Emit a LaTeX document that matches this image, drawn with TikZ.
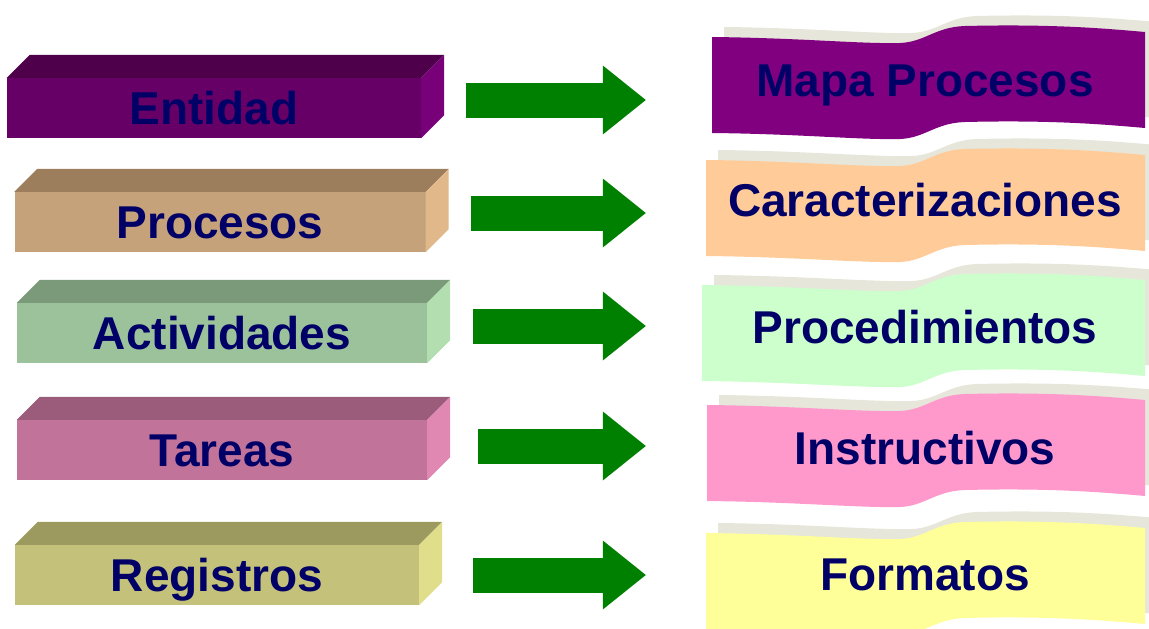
\documentclass[tikz,border=0pt]{standalone}
\usepackage{fontspec}
\setmainfont{Liberation Sans}
\usetikzlibrary{arrows.meta,positioning}

\definecolor{tinta}{RGB}{0,0,102}
\definecolor{verde}{RGB}{0,128,0}
\definecolor{sombra}{RGB}{230,230,218}
% left blocks: front, top, side
\definecolor{entF}{RGB}{102,0,102}   \definecolor{entT}{RGB}{78,0,74}    \definecolor{entS}{RGB}{120,0,120}
\definecolor{proF}{RGB}{198,162,122} \definecolor{proT}{RGB}{156,125,92} \definecolor{proS}{RGB}{224,184,138}
\definecolor{actF}{RGB}{156,194,156} \definecolor{actT}{RGB}{122,154,122} \definecolor{actS}{RGB}{178,222,176}
\definecolor{tarF}{RGB}{194,115,153} \definecolor{tarT}{RGB}{154,92,122} \definecolor{tarS}{RGB}{224,136,178}
\definecolor{regF}{RGB}{196,194,122} \definecolor{regT}{RGB}{156,154,94} \definecolor{regS}{RGB}{224,222,138}
% ribbons
\definecolor{mapC}{RGB}{128,0,128}
\definecolor{carC}{RGB}{255,204,153}
\definecolor{procC}{RGB}{204,255,204}
\definecolor{insC}{RGB}{255,153,204}
\definecolor{forC}{RGB}{255,255,153}

\tikzset{
    bloque/.style={
                minimum height=60pt,
                inner sep=0pt,
                text height=33pt,
                text depth=0pt,
                font=\fontsize{46}{50}\selectfont\bfseries,
                text=tinta
            },
    cinta/.style={
                minimum width=438pt,
                inner sep=0pt,
                text height=33pt,
                text depth=0pt,
                font=\fontsize{46}{50}\selectfont\bfseries,
                text=tinta
            },
    flecha/.style={
                draw=verde,
                line width=35pt,
                -{Triangle[length=43pt,width=69pt,line width=0pt]},
                shorten >=60pt
            },
}

% top and side faces of a block
\newcommand{\caras}[3]{%
  \fill[#2] (#1.north west) -- ++(23,-23) -- ([shift={(23,-23)}]#1.north east) -- (#1.north east) -- cycle;
  \fill[#3] (#1.north east) -- ++(23,-23) -- ([shift={(23,-23)}]#1.south east) -- (#1.south east) -- cycle;}

% outline of a ribbon, #1 = left x
\newcommand{\ondapath}[1]{(#1,0) .. controls (#1+90,1) and (860,7) .. (900,6)
  .. controls (925,5) and (935,-10) .. (965,-11) .. controls (1050,-13) and (1100,-9) .. (1145,-5)
  -- (1145,91) .. controls (1100,87) and (1050,83) .. (965,85)
  .. controls (935,86) and (925,101) .. (900,102) .. controls (860,103) and (#1+90,97) .. (#1,96) -- cycle}

% ribbon with shadow: colour, left x, top y
\newcommand{\ondas}[3]{%
  \begin{scope}[shift={(0,#3)}]
    \fill[sombra, shift={(12,-10)}] \ondapath{#2};
    \fill[#1] \ondapath{#2};
  \end{scope}}

\begin{document}
\begin{tikzpicture}[x=1pt,y=-1pt]
  \useasboundingbox (0,0) rectangle (1149,629);
  % Blocks
  \node[bloque, fill=entF, minimum width=414pt] (ent) at (214,108) {Entidad};
  \caras{ent}{entT}{entS}
  \node[bloque, fill=proF, minimum width=411pt] (pro) at (220,222) {Procesos};
  \caras{pro}{proT}{proS}
  \node[bloque, fill=actF, minimum width=410pt] (act) at (222,333) {Actividades};
  \caras{act}{actT}{actS}
  \node[bloque, fill=tarF, minimum width=410pt] (tar) at (222,450) {Tareas};
  \caras{tar}{tarT}{tarS}
  \node[bloque, fill=regF, minimum width=404pt] (reg) at (217,575) {Registros};
  \caras{reg}{regT}{regS}
  % Ribbons
  \ondas{mapC}{712}{37}
  \ondas{carC}{706}{160}
  \ondas{procC}{702}{285}
  \ondas{insC}{707}{405}
  \ondas{forC}{706}{533}
  \node[cinta] (map) at (925,80) {Mapa Procesos};
  \node[cinta] (car) at (925,200) {Caracterizaciones};
  \node[cinta] (proc) at (925,327) {Procedimientos};
  \node[cinta] (ins) at (925,448) {Instructivos};
  \node[cinta] (for) at (925,574) {Formatos};
  % Arrows
  \coordinate (a1) at ([shift={(45,-8)}]ent.east);
  \coordinate (a2) at ([shift={(45,-9)}]pro.east);
  \coordinate (a3) at ([shift={(46,-7)}]act.east);
  \coordinate (a4) at ([shift={(51,-4)}]tar.east);
  \coordinate (a5) at ([shift={(54,0)}]reg.east);
  \draw[flecha] (a1) -- (a1 -| map.west);
  \draw[flecha] (a2) -- (a2 -| car.west);
  \draw[flecha] (a3) -- (a3 -| proc.west);
  \draw[flecha] (a4) -- (a4 -| ins.west);
  \draw[flecha] (a5) -- (a5 -| for.west);
\end{tikzpicture}
\end{document}
